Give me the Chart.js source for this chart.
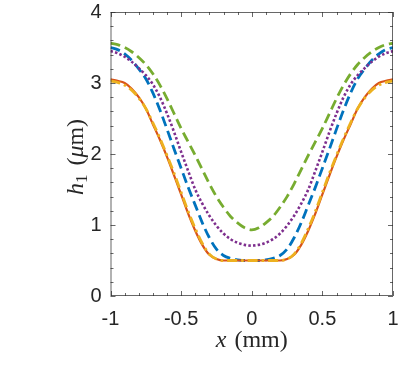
<!DOCTYPE html>
<html>
<head>
<meta charset="utf-8">
<script src="https://cdn.jsdelivr.net/npm/chart.js@4/dist/chart.umd.min.js"></script>
<style>
  html, body { margin: 0; padding: 0; background: #fff; }
  #wrap { width: 407px; height: 370px; }
</style>
</head>
<body>
<div id="wrap"><canvas id="chart" width="407" height="370"></canvas></div>
<script>
// x positions (mm)
const xs = [
  -1, -0.95, -0.9, -0.85, -0.8, -0.75, -0.7, -0.65, -0.6, -0.55, -0.5,
  -0.45, -0.4, -0.35, -0.3, -0.25, -0.2, -0.15, -0.1, -0.05, 0,
  0.05, 0.1, 0.15, 0.2, 0.25, 0.3, 0.35, 0.4, 0.45, 0.5,
  0.55, 0.6, 0.65, 0.7, 0.75, 0.8, 0.85, 0.9, 0.95, 1,
];

// h1 (um), one list per curve
const blueH = [
  3.50, 3.47, 3.41, 3.32, 3.20, 3.06, 2.86, 2.62, 2.35, 2.07, 1.80,
  1.53, 1.28, 1.03, 0.82, 0.66, 0.57, 0.53, 0.51, 0.50, 0.50,
  0.50, 0.51, 0.53, 0.57, 0.66, 0.82, 1.03, 1.28, 1.53, 1.80,
  2.07, 2.35, 2.62, 2.86, 3.06, 3.20, 3.32, 3.41, 3.47, 3.50,
];
const orangeH = [
  3.05, 3.03, 3.00, 2.92, 2.80, 2.64, 2.42, 2.20, 1.96, 1.70, 1.43,
  1.16, 0.92, 0.72, 0.58, 0.52, 0.50, 0.50, 0.50, 0.50, 0.50,
  0.50, 0.50, 0.50, 0.50, 0.52, 0.58, 0.72, 0.92, 1.16, 1.43,
  1.70, 1.96, 2.20, 2.42, 2.64, 2.80, 2.92, 3.00, 3.03, 3.05,
];
const yellowH = [
  3.03, 3.01, 2.97, 2.90, 2.79, 2.64, 2.44, 2.22, 1.98, 1.73, 1.46,
  1.19, 0.95, 0.74, 0.59, 0.52, 0.50, 0.50, 0.50, 0.50, 0.50,
  0.50, 0.50, 0.50, 0.50, 0.52, 0.59, 0.74, 0.95, 1.19, 1.46,
  1.73, 1.98, 2.22, 2.44, 2.64, 2.79, 2.90, 2.97, 3.01, 3.03,
];
const purpleH = [
  3.45, 3.42, 3.37, 3.30, 3.21, 3.11, 2.98, 2.80, 2.57, 2.31, 2.03,
  1.76, 1.50, 1.30, 1.13, 0.99, 0.88, 0.80, 0.75, 0.72, 0.71,
  0.72, 0.75, 0.80, 0.88, 0.99, 1.13, 1.30, 1.50, 1.76, 2.03,
  2.31, 2.57, 2.80, 2.98, 3.11, 3.21, 3.30, 3.37, 3.42, 3.45,
];
const greenH = [
  3.56, 3.54, 3.50, 3.44, 3.36, 3.26, 3.13, 2.97, 2.78, 2.57, 2.36,
  2.17, 1.98, 1.78, 1.58, 1.40, 1.25, 1.12, 1.03, 0.96, 0.93,
  0.96, 1.03, 1.12, 1.25, 1.40, 1.58, 1.78, 1.98, 2.17, 2.36,
  2.57, 2.78, 2.97, 3.13, 3.26, 3.36, 3.44, 3.50, 3.54, 3.56,
];

// tick positions
const xMajor = [-1, -0.5, 0, 0.5, 1];
const xMinor = [-0.9, -0.8, -0.7, -0.6, -0.4, -0.3, -0.2, -0.1, 0.1, 0.2, 0.3, 0.4, 0.6, 0.7, 0.8, 0.9];
const yMajor = [0, 1, 2, 3, 4];
const yMinor = [0.2, 0.4, 0.6, 0.8, 1.2, 1.4, 1.6, 1.8, 2.2, 2.4, 2.6, 2.8, 3.2, 3.4, 3.6, 3.8];

const AXIS = "#262626";
const SANS = "'Liberation Sans', Arial, sans-serif";
const SERIF = "'Liberation Serif', 'Times New Roman', serif";

const pts = (ys) => xs.map((x, i) => ({ x: x, y: ys[i] }));

const line = function (ys, color, dash, width, order) {
  return {
    data: pts(ys),
    borderColor: color,
    borderWidth: width,
    borderDash: dash,
    pointRadius: 0,
    fill: false,
    cubicInterpolationMode: "monotone",
    order: order,
  };
};

// box with inward major/minor ticks on all four sides
const boxTicks = {
  id: "boxTicks",
  afterDatasetsDraw(chart) {
    const { ctx, chartArea: a, scales } = chart;
    ctx.save();
    ctx.strokeStyle = "rgba(38,38,38,0.7)";
    ctx.lineWidth = 1;
    ctx.strokeRect(a.left + 0.5, a.top + 0.5, a.right - a.left - 1, a.bottom - a.top - 1);
    ctx.beginPath();
    const xt = (v, len) => {
      const p = Math.round(scales.x.getPixelForValue(v)) + 0.5;
      ctx.moveTo(p, a.bottom); ctx.lineTo(p, a.bottom - len);
      ctx.moveTo(p, a.top); ctx.lineTo(p, a.top + len);
    };
    const yt = (v, len) => {
      const p = Math.round(scales.y.getPixelForValue(v)) + 0.5;
      ctx.moveTo(a.left, p); ctx.lineTo(a.left + len, p);
      ctx.moveTo(a.right, p); ctx.lineTo(a.right - len, p);
    };
    xMajor.forEach((v) => xt(v, 5));
    xMinor.forEach((v) => xt(v, 3));
    yMajor.forEach((v) => yt(v, 5));
    yMinor.forEach((v) => yt(v, 3));
    ctx.stroke();
    ctx.restore();
  },
};

// LaTeX-like axis titles drawn as mixed italic / upright runs
const drawRuns = function (ctx, runs, cx, baseline) {
  let total = 0;
  runs.forEach((r) => { ctx.font = r.font; total += ctx.measureText(r.text).width + (r.gap || 0); });
  let pos = cx - total / 2;
  runs.forEach((r) => {
    ctx.font = r.font;
    ctx.fillText(r.text, pos, baseline + (r.dy || 0));
    pos += ctx.measureText(r.text).width + (r.gap || 0);
  });
};

const axisTitles = {
  id: "axisTitles",
  afterDraw(chart) {
    const { ctx, chartArea: a } = chart;
    ctx.save();
    ctx.fillStyle = AXIS;
    ctx.textBaseline = "alphabetic";
    ctx.textAlign = "left";
    const cx = (a.left + a.right) / 2;
    drawRuns(ctx, [
      { text: "x", font: "italic 24px " + SERIF, gap: 8 },
      { text: "(mm)", font: "24px " + SERIF },
    ], cx, 347);
    ctx.translate(83, 157);
    ctx.rotate(-Math.PI / 2);
    drawRuns(ctx, [
      { text: "h", font: "italic 24px " + SERIF },
      { text: "1", font: "17px " + SERIF, dy: 4, gap: 9 },
      { text: "(", font: "24px " + SERIF },
      { text: "μ", font: "italic 24px " + SERIF },
      { text: "m)", font: "24px " + SERIF },
    ], 0, 0);
    ctx.restore();
  },
};

const init = function () {
  const chart = document.getElementById("chart");
  new Chart(chart, {
    type: "line",
    data: {
      datasets: [
        line(blueH, "#0072BD", [10, 5], 2.8, 5),
        line(orangeH, "#D95319", [], 2.2, 4),
        line(yellowH, "#EDB120", [10, 4, 2.5, 4], 2.8, 3),
        line(purpleH, "#7E2F8E", [2.5, 2.2], 2.6, 2),
        line(greenH, "#77AC30", [10, 5], 2.8, 1),
      ],
    },
    options: {
      responsive: false,
      animation: false,
      events: [],
      layout: { padding: { top: 12, right: 14, left: 0, bottom: 0 } },
      plugins: {
        legend: { display: false },
        tooltip: { enabled: false },
      },
      scales: {
        x: {
          type: "linear",
          min: -1,
          max: 1,
          grid: { display: false, drawTicks: false },
          border: { display: false },
          ticks: {
            stepSize: 0.5,
            padding: 11,
            color: AXIS,
            font: { family: SANS, size: 20 },
            maxRotation: 0,
            callback: (v) => String(v),
          },
          afterFit(scale) {
            scale.height = 74;
            scale.paddingLeft = 0;
            scale.paddingRight = 0;
          },
        },
        y: {
          type: "linear",
          min: 0,
          max: 4,
          grid: { display: false, drawTicks: false },
          border: { display: false },
          ticks: {
            stepSize: 1,
            padding: 9,
            color: AXIS,
            font: { family: SANS, size: 20 },
            callback: (v) => String(v),
          },
          afterFit(scale) {
            scale.width = 110.5;
            scale.paddingTop = 0;
            scale.paddingBottom = 0;
          },
        },
      },
    },
    plugins: [boxTicks, axisTitles],
  });
};

if (document.readyState !== "loading") {
  init();
} else {
  document.addEventListener("DOMContentLoaded", init);
}
</script>
</body>
</html>
